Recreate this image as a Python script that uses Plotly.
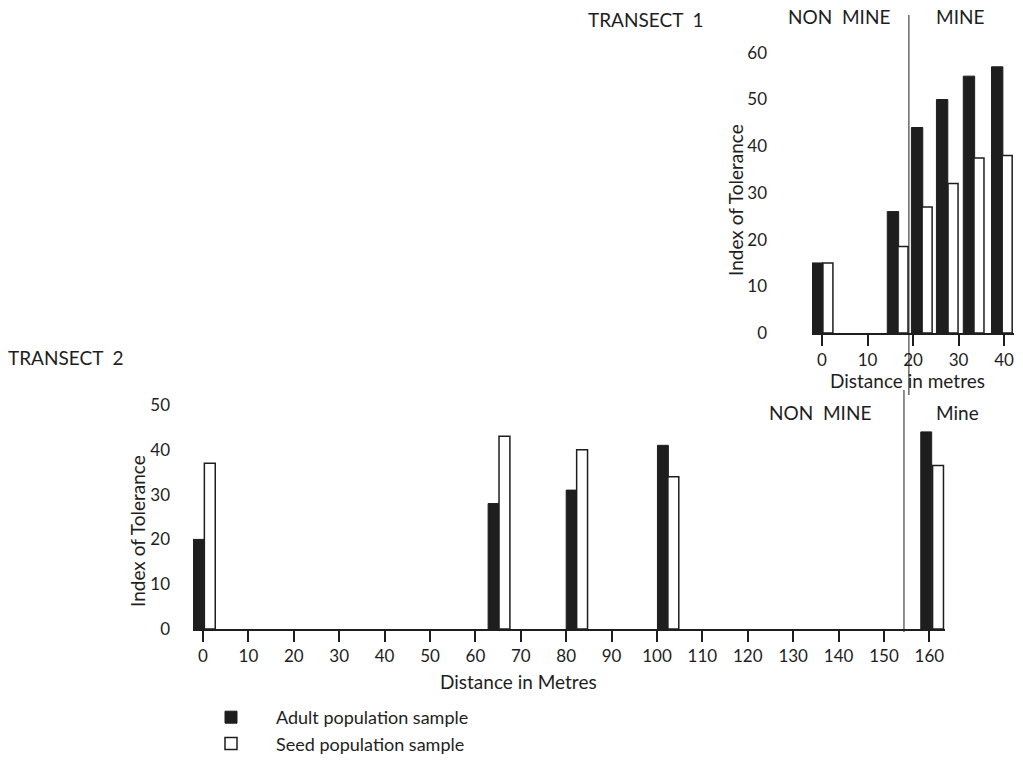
import plotly.graph_objects as go

# ---------------- data ----------------
# Transect 1 (metres)
t1_adult_x = [-1.0, 15.6, 20.9, 26.4, 32.3, 38.5]
t1_adult_y = [15, 26, 44, 50, 55, 57]
t1_seed_x = [1.3, 17.8, 23.1, 28.8, 34.5, 40.7]
t1_seed_y = [15, 18.5, 27, 32, 37.5, 38]
t1_boundary = 19.1
t1_xticks = [0, 10, 20, 30, 40]
t1_yticks = [0, 10, 20, 30, 40, 50, 60]

# Transect 2 (metres)
t2_adult_x = [-1.0, 64.0, 81.2, 101.3, 159.3]
t2_adult_y = [20, 28, 31, 41, 44]
t2_seed_x = [1.5, 66.4, 83.5, 103.6, 161.9]
t2_seed_y = [37, 43, 40, 34, 36.5]
t2_boundary = 154.4
t2_xticks = list(range(0, 161, 10))
t2_yticks = [0, 10, 20, 30, 40, 50]

labels = ["Adult population sample", "Seed population sample"]

# ---------------- layout helpers ----------------
W, H = 1023, 768
FONT = "Lato"
INK = "#1e1e1e"


def fx(px):
    return px / W


def fy(py):
    return 1 - py / H


fig = go.Figure()

# Transect 2 (bottom) bars
fig.add_trace(go.Bar(x=t2_adult_x, y=t2_adult_y, width=2.4, name=labels[0],
                     marker=dict(color=INK, line=dict(color=INK, width=1)),
                     xaxis="x", yaxis="y", legendgroup="a", showlegend=True))
fig.add_trace(go.Bar(x=t2_seed_x, y=t2_seed_y, width=2.4, name=labels[1],
                     marker=dict(color="white", line=dict(color=INK, width=1.5)),
                     xaxis="x", yaxis="y", legendgroup="s", showlegend=True))
# Transect 1 (top) bars
fig.add_trace(go.Bar(x=t1_adult_x, y=t1_adult_y, width=2.5, name=labels[0],
                     marker=dict(color=INK, line=dict(color=INK, width=1)),
                     xaxis="x2", yaxis="y2", legendgroup="a", showlegend=False))
fig.add_trace(go.Bar(x=t1_seed_x, y=t1_seed_y, width=2.2, name=labels[1],
                     marker=dict(color="white", line=dict(color=INK, width=1.5)),
                     xaxis="x2", yaxis="y2", legendgroup="s", showlegend=False))

tickfont = dict(family=FONT, size=17, color=INK)
xcommon = dict(showline=True, linecolor=INK, linewidth=1.5, ticks="outside",
               ticklen=11, tickwidth=2, tickcolor=INK, showgrid=False,
               zeroline=False, tickfont=tickfont, automargin=False)
ycommon = dict(showline=False, ticks="", showgrid=False, zeroline=False,
               tickfont=tickfont, automargin=False)

fig.update_layout(
    template="none",
    width=W, height=H,
    margin=dict(l=0, r=0, t=0, b=0, autoexpand=False),
    paper_bgcolor="white", plot_bgcolor="rgba(0,0,0,0)",
    barmode="overlay",
    font=dict(family=FONT, size=17, color=INK),
    xaxis=dict(domain=[fx(193), fx(945)], range=[(193 - 203) / 4.54, (945 - 203) / 4.54],
               tickvals=t2_xticks, anchor="y", **xcommon),
    yaxis=dict(domain=[fy(629), fy(390)], range=[0, (629 - 390) / 4.48],
               tickvals=t2_yticks, anchor="x", ticklabelstandoff=22, **ycommon),
    xaxis2=dict(domain=[fx(812), fx(1014)], range=[(812 - 822) / 4.55, (1014 - 822) / 4.55],
                tickvals=t1_xticks, anchor="y2", **xcommon),
    yaxis2=dict(domain=[fy(333), fy(15)], range=[0, (333 - 15) / 4.67],
                tickvals=t1_yticks, anchor="x2", ticklabelstandoff=44, **ycommon),
    showlegend=True,
    legend=dict(x=fx(186), y=fy(699), xanchor="left", yanchor="top",
                itemwidth=80, font=dict(family=FONT, size=18, color=INK),
                bgcolor="rgba(0,0,0,0)", tracegroupgap=0),
)

# boundary lines between non-mine and mine
fig.add_shape(type="line", xref="x2", yref="paper", x0=t1_boundary, x1=t1_boundary,
              y0=fy(395), y1=fy(15), line=dict(color=INK, width=1))
fig.add_shape(type="line", xref="x", yref="paper", x0=t2_boundary, x1=t2_boundary,
              y0=fy(632), y1=fy(390), line=dict(color=INK, width=1))


def ann(text, px, py, angle=0, size=19):
    fig.add_annotation(text=text, x=fx(px), y=fy(py), xref="paper", yref="paper",
                       showarrow=False, textangle=angle, xanchor="center", yanchor="middle",
                       font=dict(family=FONT, size=size, color=INK))


ann("TRANSECT  1", 646, 20)
ann("NON  MINE", 839, 17)
ann("MINE", 960, 17)
ann("Index of Tolerance", 735, 200, angle=-90)
ann("Distance in metres", 907, 380)

ann("TRANSECT  2", 66, 357)
ann("NON  MINE", 820, 412)
ann("Mine", 957, 412)
ann("Index of Tolerance", 137, 531, angle=-90)
ann("Distance in Metres", 518, 681)

fig.write_html("out.html",
               config={"displayModeBar": False},
               post_script="document.body.style.margin='0';document.body.style.overflow='hidden';")
